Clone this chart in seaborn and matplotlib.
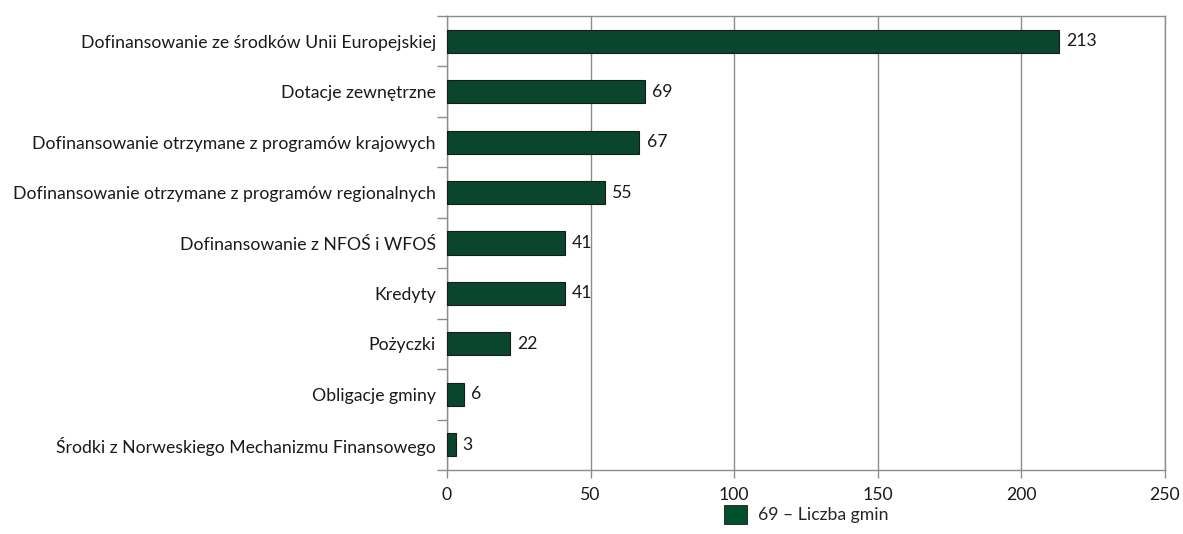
import matplotlib
matplotlib.use("Agg")
import matplotlib.pyplot as plt
import seaborn as sns
import pandas as pd
from matplotlib.patches import Patch
from matplotlib.ticker import FixedLocator

categories = [
    "Dofinansowanie ze środków Unii Europejskiej",
    "Dotacje zewnętrzne",
    "Dofinansowanie otrzymane z programów krajowych",
    "Dofinansowanie otrzymane z programów regionalnych",
    "Dofinansowanie z NFOŚ i WFOŚ",
    "Kredyty",
    "Pożyczki",
    "Obligacje gminy",
    "Środki z Norweskiego Mechanizmu Finansowego",
]
values = [213, 69, 67, 55, 41, 41, 22, 6, 3]
x_ticks = [0, 50, 100, 150, 200, 250]
legend_label = "69 – Liczba gmin"

bar_color = "#00502E"
grid_color = "#8C8C8C"
text_color = "#1a1a1a"
fs = 12.7

sns.set_theme(style="white")
plt.rcParams["font.family"] = ["Lato", "DejaVu Sans"]

df = pd.DataFrame({"kategoria": categories, "liczba": values})

fig = plt.figure(figsize=(11.83, 5.34), dpi=100)
ax = fig.add_axes([447 / 1183, 1 - 470 / 534, (1165 - 447) / 1183, (470 - 16) / 534])

sns.barplot(data=df, x="liczba", y="kategoria", orient="h", color=bar_color,
            width=0.46, edgecolor="#1a1a1a", linewidth=0.8, ax=ax, zorder=3)

ax.set_xlim(0, 250)
ax.set_ylim(len(categories) - 0.5, -0.5)
ax.xaxis.set_major_locator(FixedLocator(x_ticks))
ax.set_xticklabels([str(t) for t in x_ticks], fontsize=fs, color=text_color)
ax.grid(axis="x", color=grid_color, linewidth=1.0, zorder=0)
ax.grid(axis="y", visible=False)

# category separators as outward ticks on the left axis
ax.yaxis.set_minor_locator(FixedLocator([i + 0.5 for i in range(-1, len(categories))]))
ax.tick_params(axis="y", which="major", length=0, pad=8, labelsize=fs, labelcolor=text_color)
ax.tick_params(axis="y", which="minor", left=True, length=7, width=1.0, color=grid_color)
ax.tick_params(axis="x", which="major", bottom=True, length=6, width=1.0, color=grid_color, pad=6)

ax.set_xlabel("")
ax.set_ylabel("")
for s in ax.spines.values():
    s.set_visible(True)
    s.set_color(grid_color)
    s.set_linewidth(1.0)

for i, v in enumerate(values):
    ax.text(v + 2.5, i, str(v), va="center", ha="left", fontsize=fs, color=text_color)

handle = Patch(facecolor=bar_color, edgecolor="#1a1a1a", linewidth=0.6, label=legend_label)
fig.legend(handles=[handle], loc="lower center", bbox_to_anchor=(806 / 1183, 1 / 534),
           frameon=False, fontsize=fs, handlelength=1.3, handleheight=1.3,
           handletextpad=0.6, borderpad=0)

fig.savefig("out.png", dpi=100)
